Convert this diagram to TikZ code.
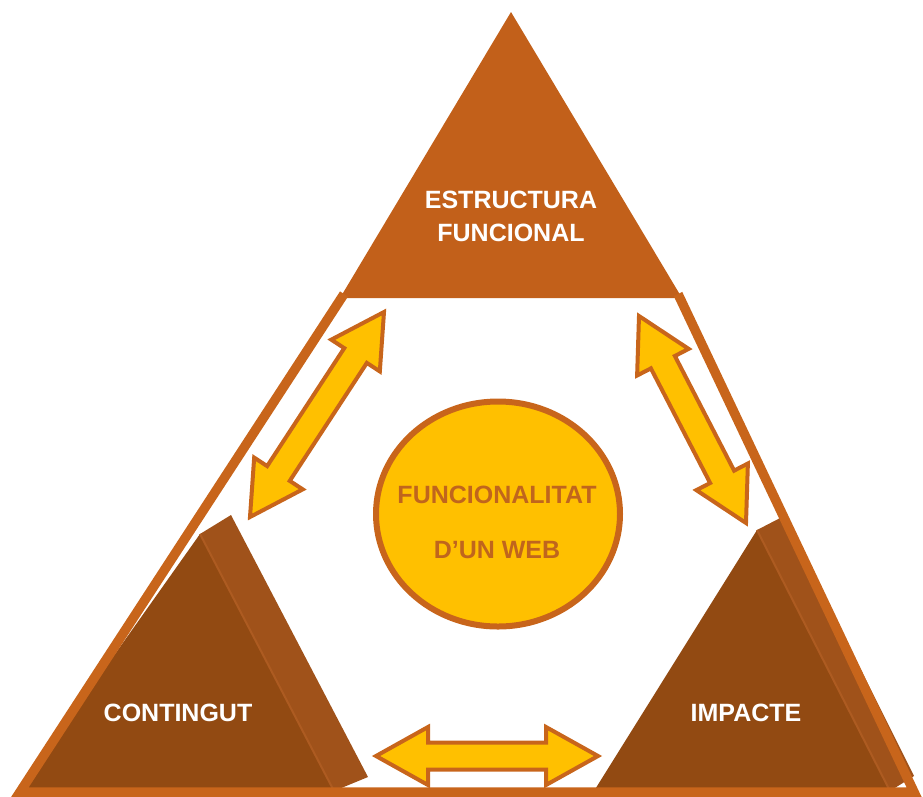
\documentclass[tikz,border=0pt]{standalone}
\usepackage{fontspec}
\setmainfont{Liberation Sans}
\usetikzlibrary{calc,shapes.geometric}
\definecolor{rim}{HTML}{C8651B}
\definecolor{topblock}{HTML}{C2601A}
\definecolor{front}{HTML}{924A12}
\definecolor{sideface}{HTML}{A0521A}
\definecolor{ridge}{HTML}{AD5B21}
\definecolor{gold}{HTML}{FFC000}
\definecolor{inktext}{HTML}{C0651D}

% two-headed block arrow between two named points
\newcommand\twoway[2]{%
  \draw[dblarrow] let \p1=($(#2)-(#1)$), \n1={atan2(\y1,\x1)} in
    (#1) -- ($(#1)+(\n1:52pt)+(\n1+90:29pt)$) -- ($(#1)+(\n1:52pt)+(\n1+90:13.5pt)$)
    -- ($(#2)+(\n1:-52pt)+(\n1+90:13.5pt)$) -- ($(#2)+(\n1:-52pt)+(\n1+90:29pt)$)
    -- (#2) -- ($(#2)+(\n1:-52pt)+(\n1-90:29pt)$) -- ($(#2)+(\n1:-52pt)+(\n1-90:13.5pt)$)
    -- ($(#1)+(\n1:52pt)+(\n1-90:13.5pt)$) -- ($(#1)+(\n1:52pt)+(\n1-90:29pt)$) -- cycle;}

\begin{document}
\begin{tikzpicture}[x=1pt,y=-1pt,
  lbl/.style={text=white,font=\fontsize{25}{33}\selectfont\bfseries,inner sep=0pt,align=center},
  dblarrow/.style={fill=gold,draw=rim,line width=4pt,line join=miter}]
\useasboundingbox (0,0) rectangle (923,796);
% top block
\fill[topblock] (511,12) -- (340,298) -- (682,298) -- cycle;
% bottom blocks, side face first
\fill[sideface] (200,534) -- (231,515) -- (368,777) -- (334,791) -- cycle;
\fill[front] (200,534) -- (18,791) -- (334,791) -- cycle;
\draw[ridge,line width=2pt] (200,534) -- (334,791);
\fill[sideface] (757,530) -- (784,516) -- (914,776) -- (890,791) -- cycle;
\fill[front] (757,530) -- (594,791) -- (890,791) -- cycle;
\draw[ridge,line width=2pt] (757,530) -- (890,791);
% frame
\draw[rim,line width=9.5pt,line join=miter] (344,294) -- (20,792) -- (914,792) -- (678,294);

\node[lbl] (estr) at (511,216.5) {ESTRUCTURA\\FUNCIONAL};
\node[lbl] (cont) at (178,713) {CONTINGUT};
\node[lbl] (imp) at (746,713) {IMPACTE};

\node[ellipse,draw=rim,fill=gold,line width=6pt,minimum width=244pt,minimum height=225pt,inner sep=0pt] (web) at (498,514) {};
\node[lbl,text=inktext,font=\fontsize{25}{55}\selectfont\bfseries] (webtxt) at (497,522) {FUNCIONALITAT\\D’UN WEB};

% arrows
\coordinate (la) at (384,312); \coordinate (lb) at (250,517);
\coordinate (ra) at (639,316); \coordinate (rb) at (746,523);
\coordinate (ba) at (376,756); \coordinate (bb) at (598,756);
\twoway{la}{lb}
\twoway{ra}{rb}
\twoway{ba}{bb}
\end{tikzpicture}
\end{document}
